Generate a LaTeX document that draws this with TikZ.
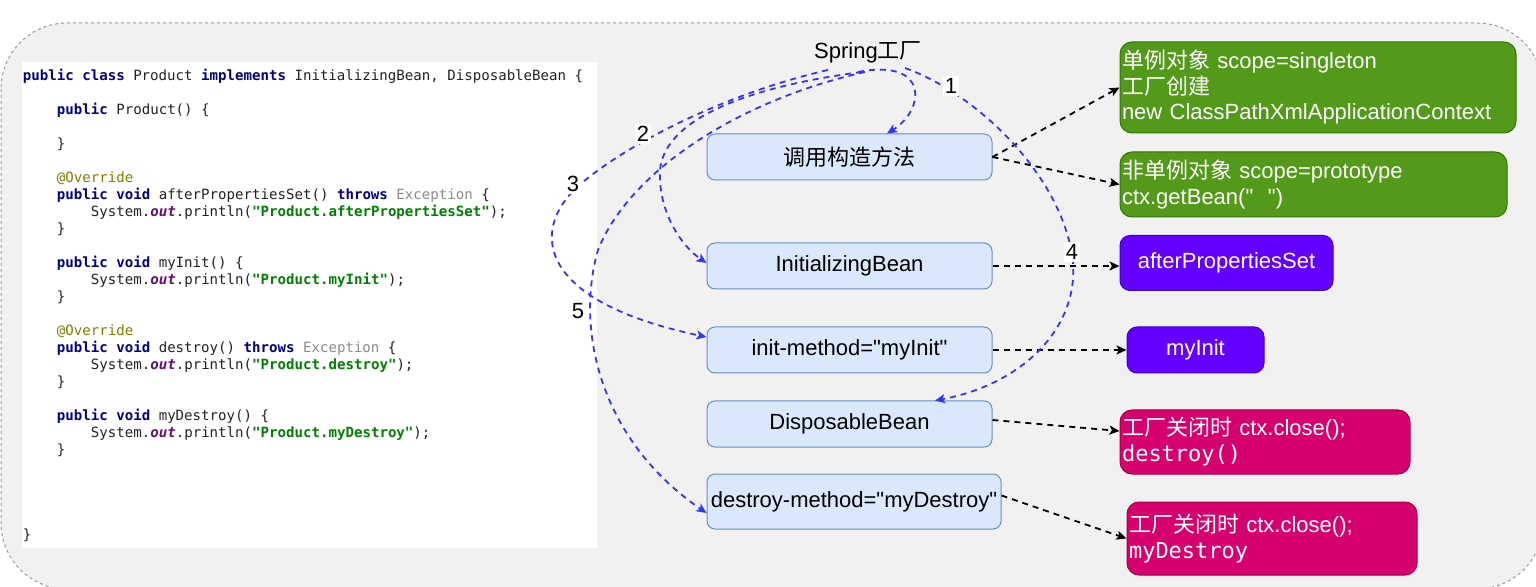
\documentclass[tikz,border=0pt]{standalone}
\usepackage{fontspec}
\setmainfont{Liberation Sans}[Ligatures=TeXOff]
\newfontfamily\cjk{Noto Sans CJK SC}
\newfontfamily\codefont{DejaVu Sans Mono}
\usetikzlibrary{arrows.meta,calc}
\definecolor{bggray}{HTML}{F1F1F1}
\definecolor{bluefill}{HTML}{DAE8FC}
\definecolor{bluestroke}{HTML}{6C8EBF}
\definecolor{greenfill}{HTML}{53991A}
\definecolor{greenstroke}{HTML}{2D7600}
\definecolor{violetfill}{HTML}{6400FF}
\definecolor{violetstroke}{HTML}{3700CC}
\definecolor{crimsonfill}{HTML}{D6006E}
\definecolor{crimsonstroke}{HTML}{A50040}
\definecolor{arrowblue}{HTML}{3535EE}
\definecolor{kwc}{HTML}{000080}
\definecolor{strc}{HTML}{008000}
\definecolor{outc}{HTML}{660E7A}
\definecolor{annc}{HTML}{808000}
\definecolor{excc}{HTML}{8C8C8C}
\definecolor{codeblk}{HTML}{222222}
\newcommand{\kwd}[1]{{\bfseries\color{kwc}#1}}
\newcommand{\strg}[1]{{\bfseries\color{strc}#1}}
\newcommand{\outfld}[1]{{\bfseries\itshape\color{outc}#1}}
\newcommand{\annot}[1]{{\color{annc}#1}}
\newcommand{\excp}[1]{{\color{excc}#1}}
\newcommand{\codeline}[4]{\node[codetext] (#1) at ({22.5+#2*8.5},{80.5+#3*17}) {#4};}
\tikzset{
  codetext/.style={anchor=base west, inner sep=0pt, text=codeblk, font=\codefont\fontsize{7.05}{8.5}\selectfont},
  bluebox/.style={draw=bluestroke, fill=bluefill, rounded corners=4pt, line width=0.5pt,
    minimum width=142.5pt, minimum height=23pt, inner sep=0pt, font=\fontsize{11}{13}\selectfont},
  greenbox/.style={draw=greenstroke, fill=greenfill, rounded corners=6pt, line width=0.5pt, text=white,
    align=left, inner xsep=1pt, inner ysep=0pt, font=\fontsize{11}{12.75}\selectfont},
  violetbox/.style={draw=violetstroke, fill=violetfill, rounded corners=5pt, line width=0.5pt, text=white,
    inner sep=0pt, font=\fontsize{11}{13}\selectfont},
  crimsonbox/.style={draw=crimsonstroke, fill=crimsonfill, rounded corners=6pt, line width=0.5pt, text=white,
    align=left, inner xsep=1pt, inner ysep=0pt, font=\fontsize{11}{13}\selectfont},
  lbl/.style={inner sep=0pt, font=\fontsize{11}{13}\selectfont},
  numlbl/.style={fill=white, inner sep=1pt, font=\fontsize{11}{13}\selectfont},
  bluearrow/.style={draw=arrowblue, line width=0.9pt, dash pattern=on 3pt off 2.5pt,
    -{Stealth[length=5pt,width=4.5pt,inset=1.2pt]}},
  blackarrow/.style={draw=black, line width=0.9pt, dash pattern=on 3pt off 2.5pt,
    -{Stealth[length=5pt,width=4.5pt,inset=1.2pt]}}
}
\begin{document}
\begin{tikzpicture}[x=0.5pt,y=-0.5pt]
\useasboundingbox (0,0) rectangle (1536,587);
% outer container
\path[fill=bggray, draw=gray!80, line width=0.5pt, dash pattern=on 1.5pt off 1.5pt, rounded corners=33pt]
  (1,23) rectangle (1543,589);
% code panel
\path[fill=white] (22,62) rectangle (597,548);
\codeline{l0}{0}{0}{\kwd{public class} Product \kwd{implements} InitializingBean, DisposableBean \{}
\codeline{l1}{4}{2}{\kwd{public} Product() \{}
\codeline{l2}{4}{4}{\}}
\codeline{l3}{4}{6}{\annot{@Override}}
\codeline{l4}{4}{7}{\kwd{public void} afterPropertiesSet() \kwd{throws} \excp{Exception} \{}
\codeline{l5}{8}{8}{System.\outfld{out}.println(\strg{"Product.afterPropertiesSet"});}
\codeline{l6}{4}{9}{\}}
\codeline{l7}{4}{11}{\kwd{public void} myInit() \{}
\codeline{l8}{8}{12}{System.\outfld{out}.println(\strg{"Product.myInit"});}
\codeline{l9}{4}{13}{\}}
\codeline{l10}{4}{15}{\annot{@Override}}
\codeline{l11}{4}{16}{\kwd{public void} destroy() \kwd{throws} \excp{Exception} \{}
\codeline{l12}{8}{17}{System.\outfld{out}.println(\strg{"Product.destroy"});}
\codeline{l13}{4}{18}{\}}
\codeline{l14}{4}{20}{\kwd{public void} myDestroy() \{}
\codeline{l15}{8}{21}{System.\outfld{out}.println(\strg{"Product.myDestroy"});}
\codeline{l16}{4}{22}{\}}
\codeline{l17}{0}{27}{\}}
% title
\node[lbl] (spring) at (868,52) {Spring{\cjk 工厂}};
% lifecycle boxes
\node[bluebox] (ctor) at (849.5,157) {{\cjk 调用构造方法}};
\node[bluebox] (initb) at (849.5,266) {InitializingBean};
\node[bluebox] (initm) at (849.5,350) {init-method="myInit"};
\node[bluebox] (disp) at (849.5,424) {DisposableBean};
\node[bluebox, minimum width=147pt, minimum height=27.5pt] (destm) at (854,501.5) {destroy-method="myDestroy"};
% right boxes
\node[greenbox, text width=196pt, minimum height=45.5pt] (g1) at (1318,87.5)
  {{\cjk 单例对象} scope=singleton\\{\cjk 工厂创建}\\new ClassPathXmlApplicationContext};
\node[greenbox, text width=191.5pt, minimum height=32.5pt] (g2) at (1313.5,184.5)
  {{\cjk 非单例对象} scope=prototype\\ctx.getBean("\ \ ")};
\node[violetbox, minimum width=106.5pt, minimum height=27.5pt] (v1) at (1226.5,263) {afterPropertiesSet};
\node[violetbox, minimum width=68.5pt, minimum height=23pt] (v2) at (1195.5,350) {myInit};
\node[crimsonbox, text width=143pt, minimum height=32pt] (c1) at (1265,442)
  {{\cjk 工厂关闭时} ctx.close();\\{\codefont destroy()}};
\node[crimsonbox, text width=143pt, minimum height=36.5pt] (c2) at (1272,538.5)
  {{\cjk 工厂关闭时} ctx.close();\\{\codefont myDestroy}};
% black connectors
\draw[blackarrow] (ctor.east) -- (g1.west);
\draw[blackarrow] (ctor.east) -- (g2.west);
\draw[blackarrow] (initb.east) -- (v1.west |- initb.east);
\draw[blackarrow] (initm.east) -- (v2.west);
\draw[blackarrow] ($(disp.east)+(0,-4)$) -- ($(c1.west)+(0,-11)$);
\draw[blackarrow] ($(destm.east)+(0,-6)$) -- (c2.west);
% blue lifecycle curves
\draw[bluearrow] ($(spring.center)+(-10,20)$) .. controls (930,58) and (925,110) .. ($(ctor.north)+(37.5,0)$);
\draw[bluearrow] ($(spring.center)+(-6,20)$) .. controls (760,85) and (665,115) .. (660,170)
  .. controls (658,210) and (680,245) .. ($(initb.west)+(0,-3)$);
\draw[bluearrow] ($(spring.center)+(-40,18)$) .. controls (740,90) and (640,135) .. (583,182)
  .. controls (530,225) and (530,300) .. ($(initm.west)+(0,-13)$);
\draw[bluearrow] ($(spring.center)+(37,16)$) .. controls (980,95) and (1065,180) .. (1073,263)
  .. controls (1078,330) and (1020,385) .. ($(disp.north)+(85.5,0)$);
\draw[bluearrow] ($(spring.center)+(-3,20)$) .. controls (740,100) and (630,170) .. (598,250)
  .. controls (575,330) and (600,440) .. ($(destm.west)+(0,11.5)$);
% step numbers
\node[numlbl] (n1) at (951,86) {1};
\node[numlbl] (n2) at (643,134) {2};
\node[numlbl] (n3) at (573,184) {3};
\node[numlbl] (n4) at (1072,252) {4};
\node[numlbl] (n5) at (578,311) {5};
\end{tikzpicture}
\end{document}
